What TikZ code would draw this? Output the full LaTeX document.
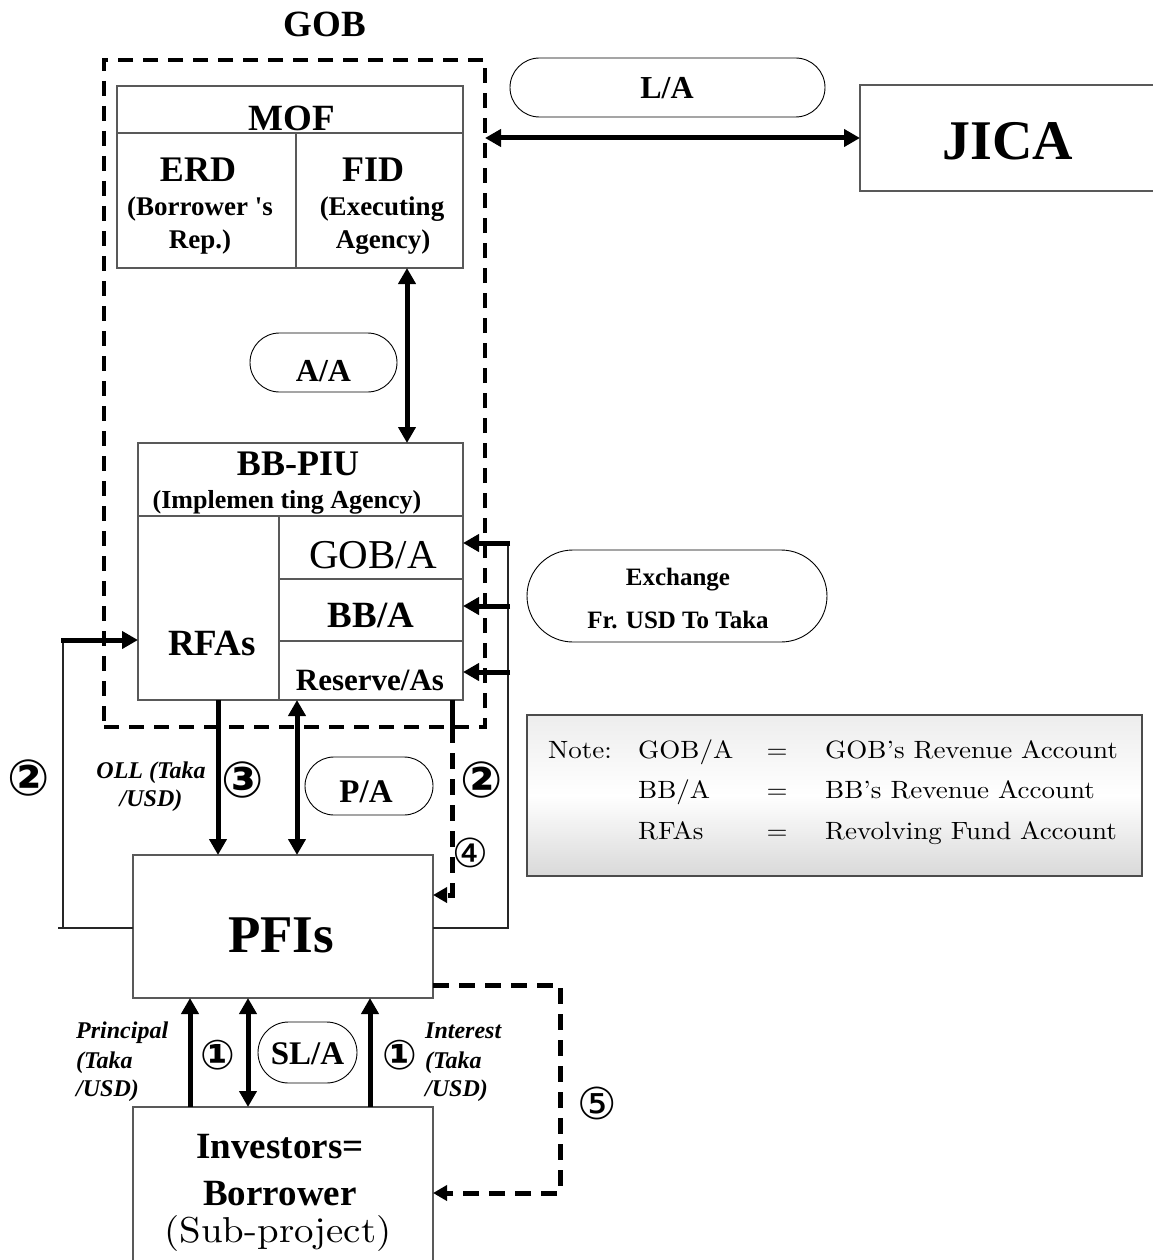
\documentclass[tikz,border=0pt]{standalone}
\usepackage{fontspec}
\newfontfamily\tms{Liberation Serif}
\newfontfamily\dvs{DejaVu Sans}
\newfontfamily\lmw{lmroman10-regular.otf}[FakeStretch=1.08,Ligatures=TeX]
\usetikzlibrary{arrows.meta,shapes.misc}
\newcommand\fsz[1]{\fontsize{#1}{#1}\selectfont}
\tikzset{
  box/.style={draw=gray!70!black, line width=1.2pt, inner sep=0pt, outer sep=0pt},
  pill/.style={draw=black, line width=0.9pt, rounded rectangle, inner sep=0pt, outer sep=0pt},
  gobdash/.style={draw=black, line width=4.5pt, dash pattern=on 15pt off 10pt, inner sep=0pt, outer sep=0pt},
  tb/.style={font=\tms\bfseries\fsz{#1}, inner sep=0pt, anchor=base},
  tr/.style={font=\tms\fsz{#1}, inner sep=0pt, anchor=base},
  tbi/.style={font=\tms\bfseries\itshape\fsz{#1}, inner sep=0pt, anchor=base},
  lmt/.style={font=\lmw\fsz{#1}, inner sep=0pt, anchor=base},
  circ/.style={font=\dvs\bfseries\fsz{#1}, inner sep=0pt},
  circl/.style={font=\dvs\fsz{#1}, inner sep=0pt},
  thinl/.style={line width=1.2pt, draw=black!85},
  sarr/.style={line width=5pt, -{Triangle[length=16pt,width=17pt]}},
  darr/.style={line width=5pt, {Triangle[length=16pt,width=17pt]}-{Triangle[length=16pt,width=17pt]}},
  dsh/.style={line width=5pt, dash pattern=on 16pt off 10pt},
}
\begin{document}
\begin{tikzpicture}[x=1pt,y=-1pt]
\useasboundingbox (0,0) rectangle (1152,1260);

% GOB dashed frame
\node[gobdash, minimum width=381pt, minimum height=667pt] (gob) at (294.5,393.5) {};
\node[tb=37] (gobl) at (325,37) {GOB};

% MOF
\node[box, minimum width=346pt, minimum height=182pt] (mof) at (290,177) {};
\draw[box] (mof.west |- 0,133) -- (mof.east |- 0,133);
\draw[box] (296,133) -- (mof.south -| 296,0);
\node[tb=37] (mofl) at (292,131) {MOF};
\node[tb=36] (erd) at (198,182) {ERD};
\node[tb=27] (erd2) at (200,215) {(Borrower 's};
\node[tb=27] (erd3) at (200,248) {Rep.)};
\node[tb=36] (fid) at (373,182) {FID};
\node[tb=27] (fid2) at (382,215) {(Executing};
\node[tb=27] (fid3) at (383,248) {Agency)};

% L/A and JICA
\node[pill, minimum width=315pt, minimum height=59pt] (la) at (667.5,87.5) {};
\node[tb=32] (lal) at (667,99) {L/A};
\node[box, minimum width=300pt, minimum height=106pt] (jica) at (1010,138) {};
\node[tb=56] (jical) at (1008,160) {JICA};
\draw[darr] (jica.west -| gob.east) -- (jica.west);

% A/A
\node[pill, minimum width=147pt, minimum height=59pt] (aa) at (323.5,362.5) {};
\node[tb=32] (aal) at (323.5,381) {A/A};

% BB-PIU
\node[box, minimum width=325pt, minimum height=257pt] (bbpiu) at (300.5,571.5) {};
\draw[darr] (mof.south -| 407,0) -- (bbpiu.north -| 407,0);
\draw[box] (bbpiu.west |- 0,516) -- (bbpiu.east |- 0,516);
\draw[box] (279,516) -- (bbpiu.south -| 279,0);
\draw[box] (279,579) -- (bbpiu.east |- 0,579);
\draw[box] (279,641) -- (bbpiu.east |- 0,641);
\node[tb=36] (bbl) at (298,475) {BB-PIU};
\node[tb=26] (bbl2) at (287,508) {(Implemen ting Agency)};
\node[tr=41] (goba) at (373,568) {GOB/A};
\node[tb=37] (bba) at (371,627) {BB/A};
\node[tb=37] (rfas) at (212,655) {RFAs};
\node[tb=31] (resa) at (370,690) {Reserve/As};

% Exchange
\node[pill, minimum width=300pt, minimum height=92pt] (exch) at (677,596) {};
\node[tb=25] (ex1) at (678,585) {Exchange};
\node[tb=25] (ex2) at (678,628) {Fr. USD To Taka};

% Note box
\node[draw=gray!60!black, line width=1.2pt, inner sep=0pt, outer sep=0pt,
      minimum width=615pt, minimum height=161pt,
      top color=gray!14, bottom color=gray!30, middle color=white] (note) at (834.5,795.5) {};
\node[lmt=25, anchor=base west] (n1) at (548,758) {Note:};
\node[lmt=25, anchor=base west] (n2) at (638,758) {GOB/A};
\node[lmt=25] (n3) at (777,758) {=};
\node[lmt=25, anchor=base west] (n4) at (825,758) {GOB's Revenue Account};
\node[lmt=25, anchor=base west] (n5) at (638,798) {BB/A};
\node[lmt=25] (n6) at (777,798) {=};
\node[lmt=25, anchor=base west] (n7) at (825,798) {BB's Revenue Account};
\node[lmt=25, anchor=base west] (n8) at (638,839) {RFAs};
\node[lmt=25] (n9) at (777,839) {=};
\node[lmt=25, anchor=base west] (n10) at (825,839) {Revolving Fund Account};

% PFIs
\node[box, minimum width=300pt, minimum height=143pt] (pfis) at (283,926.5) {};
\node[tb=53] (pfisl) at (281,952) {PFIs};

% connectors BB-PIU <-> PFIs
\draw[sarr] (bbpiu.south -| 218,0) -- (pfis.north -| 218,0);
\draw[darr] (bbpiu.south -| 297,0) -- (pfis.north -| 297,0);
\draw[line width=5pt] (bbpiu.south -| 452,0) -- (452,727);
\draw[dsh, -{Triangle[length=14pt,width=15pt]}] (452,727) -- (452,895) -- (pfis.east |- 0,895);

% P/A
\node[pill, minimum width=128pt, minimum height=58pt] (pa) at (369,786) {};
\node[tb=33] (pal) at (366,802) {P/A};

% labels
\node[tbi=24] (oll1) at (151,778) {OLL (Taka};
\node[tbi=24] (oll2) at (151,806) {/USD)};
\node[circ=50] (c2l) at (29,778) {②};
\node[circ=50] (c3) at (243,780) {③};
\node[circ=50] (c2r) at (482,780) {②};
\node[circl=40] (c4) at (470,853) {④};

% right loop
\draw[thinl] (pfis.east |- 0,928) -- (508,928) -- (508,541);
\draw[sarr] (510,543) -- (bbpiu.east |- 0,543);
\draw[sarr] (510,606) -- (bbpiu.east |- 0,606);
\draw[sarr] (510,672) -- (bbpiu.east |- 0,672);

% left loop
\draw[thinl] (pfis.west |- 0,928) -- (58,928);
\draw[thinl] (63,928) -- (63,640);
\draw[sarr] (61,640) -- (bbpiu.west |- 0,640);

% Investors
\node[box, minimum width=300pt, minimum height=163pt] (inv) at (283,1188.5) {};
\node[tb=37] (inv1) at (280,1158) {Investors=};
\node[tb=37] (inv2) at (280,1205) {Borrower};
\node[lmt=36] (inv3) at (278,1242) {(Sub-project)};

% PFIs <-> Investors
\draw[sarr] (inv.north -| 190,0) -- (pfis.south -| 190,0);
\draw[darr] (inv.north -| 248,0) -- (pfis.south -| 248,0);
\draw[sarr] (inv.north -| 370,0) -- (pfis.south -| 370,0);
\node[pill, minimum width=99pt, minimum height=61pt] (sla) at (307.5,1052.5) {};
\node[tb=33] (slal) at (307.5,1064) {SL/A};
\node[circ=41] (c1l) at (218,1055) {①};
\node[circ=41] (c1r) at (400,1055) {①};
\node[tbi=24, anchor=base west] (pr1) at (76,1038) {Principal};
\node[tbi=24, anchor=base west] (pr2) at (76,1068) {(Taka};
\node[tbi=24, anchor=base west] (pr3) at (76,1096) {/USD)};
\node[tbi=24, anchor=base west] (in1) at (425,1038) {Interest};
\node[tbi=24, anchor=base west] (in2) at (425,1068) {(Taka};
\node[tbi=24, anchor=base west] (in3) at (425,1096) {/USD)};

% dashed 5
\draw[dsh, -{Triangle[length=14pt,width=15pt]}] (pfis.east |- 0,985) -- (560,985) -- (560,1193) -- (inv.east |- 0,1193);
\node[circl=44] (c5) at (597,1103) {⑤};
\end{tikzpicture}
\end{document}
